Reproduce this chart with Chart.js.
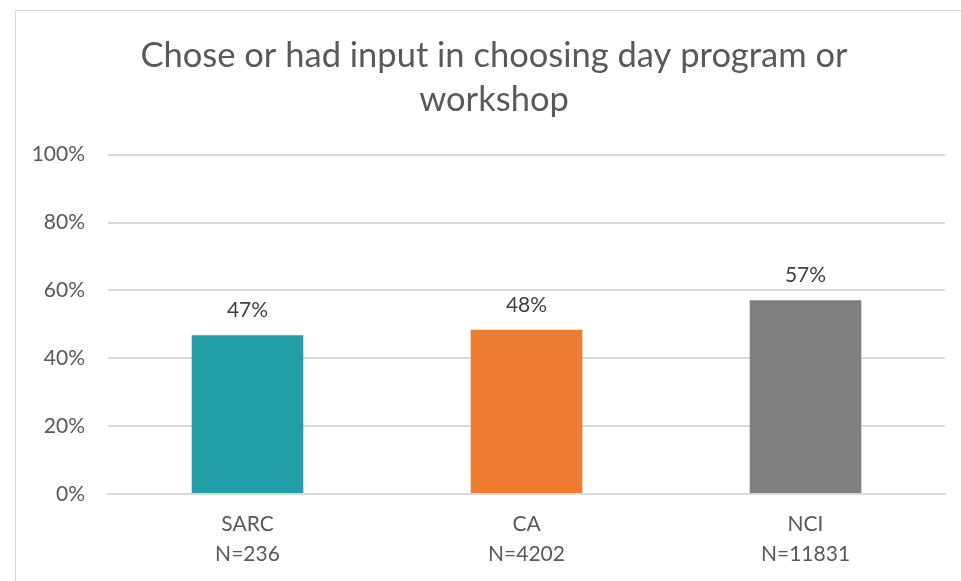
<!DOCTYPE html>
<html lang="en">
<head>
    <meta charset="UTF-8">
    <title>Chose or had input in choosing day program or workshop</title>
    <style>
        html, body {
            margin: 0;
            padding: 0;
            background: #ffffff;
        }
        .frame {
            position: absolute;
            left: 15px;
            top: 10px;
            width: 960px;
            height: 580px;
            border: 1px solid #d9d9d9;
        }
        .wrap {
            position: absolute;
            left: 0;
            top: 0;
            width: 961px;
            height: 581px;
        }
    </style>
</head>
<body>
    <div class="frame"></div>
    <div class="wrap"><canvas id="chart" width="961" height="581"></canvas></div>

    <script src="https://cdn.jsdelivr.net/npm/chart.js"></script>
    <script>
        // data
        const groups = [['SARC', 'N=236'], ['CA', 'N=4202'], ['NCI', 'N=11831']];
        const shares = [46.8, 48.4, 57.1];
        const barColors = ['#219ea7', '#ed7d31', '#7f7f7f'];
        const yTicks = [0, 20, 40, 60, 80, 100];

        const FONT = 'Lato, "Open Sans", sans-serif';

        // labels above bars with a white box behind them
        const barLabels = {
            id: 'barLabels',
            afterDatasetsDraw(chart) {
                const ctx = chart.ctx;
                const meta = chart.getDatasetMeta(0);
                ctx.save();
                ctx.font = '21px ' + FONT;
                ctx.textAlign = 'center';
                ctx.textBaseline = 'middle';
                meta.data.forEach((bar, i) => {
                    const txt = Math.round(shares[i]) + '%';
                    const w = ctx.measureText(txt).width + 12;
                    const y = bar.y - 25;
                    ctx.fillStyle = '#ffffff';
                    ctx.fillRect(bar.x - w / 2, y - 13, w, 26);
                    ctx.fillStyle = '#404040';
                    ctx.fillText(txt, bar.x, y);
                });
                ctx.restore();
            }
        };

        new Chart(document.getElementById('chart'), {
            type: 'bar',
            data: {
                labels: groups,
                datasets: [{
                    data: shares,
                    backgroundColor: barColors,
                    barPercentage: 0.4,
                    categoryPercentage: 1
                }]
            },
            options: {
                responsive: false,
                animation: false,
                devicePixelRatio: 1,
                layout: { padding: { left: 27, right: 0, top: 0, bottom: 0 } },
                plugins: {
                    legend: { display: false },
                    tooltip: { enabled: false },
                    title: {
                        display: true,
                        text: ['Chose or had input in choosing day program or', 'workshop'],
                        color: '#595959',
                        font: { family: FONT, size: 34.5, weight: 'normal', lineHeight: 1.3 },
                        padding: { top: 33, bottom: 32 }
                    }
                },
                scales: {
                    x: {
                        grid: { display: false, drawTicks: false },
                        border: { color: '#d9d9d9', width: 2 },
                        ticks: {
                            color: '#595959',
                            font: { family: FONT, size: 21, lineHeight: 1.4 },
                            padding: 16,
                            maxRotation: 0
                        },
                        afterFit(scale) { scale.height = 87; }
                    },
                    y: {
                        min: 0,
                        max: 100,
                        afterBuildTicks(scale) {
                            scale.ticks = yTicks.map(v => ({ value: v }));
                        },
                        grid: { color: '#d9d9d9', lineWidth: 2, drawTicks: false },
                        border: { display: false },
                        ticks: {
                            color: '#595959',
                            font: { family: FONT, size: 21 },
                            padding: 23,
                            callback: v => v + '%'
                        },
                        afterFit(scale) { scale.width = 81; }
                    },
                    // empty right margin, keeps the title centred in the frame
                    yRight: {
                        position: 'right',
                        min: 0,
                        max: 100,
                        grid: { display: false, drawTicks: false },
                        border: { display: false },
                        ticks: { display: false },
                        afterFit(scale) { scale.width = 16; }
                    }
                }
            },
            plugins: [barLabels]
        });
    </script>
</body>
</html>
